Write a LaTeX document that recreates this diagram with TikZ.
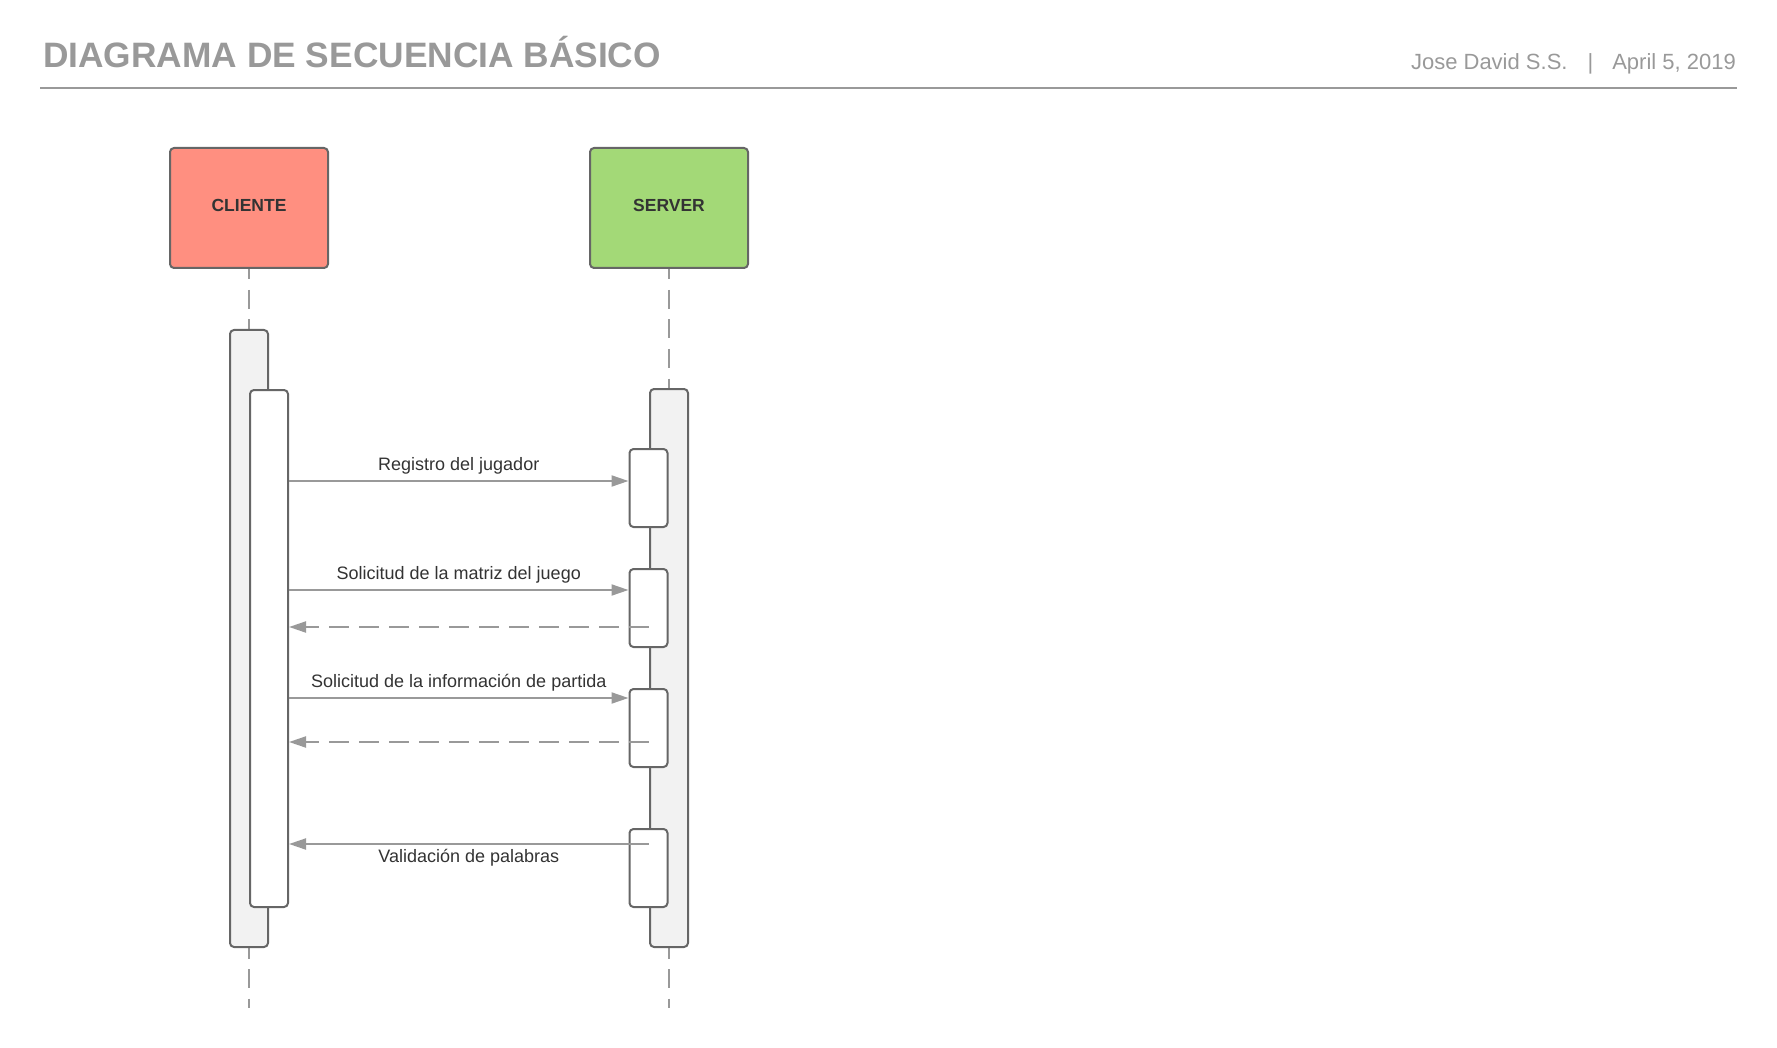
\documentclass[tikz,border=0pt]{standalone}
\usepackage{fontspec}
\setmainfont{Liberation Sans}
\usetikzlibrary{arrows.meta}
\definecolor{titlegray}{RGB}{153, 153, 153}
\definecolor{linegray}{RGB}{153, 153, 153}
\definecolor{bordergray}{RGB}{102, 102, 102}
\definecolor{textdark}{RGB}{51, 51, 51}
\definecolor{clientred}{RGB}{255, 143, 128}
\definecolor{servergreen}{RGB}{163, 217, 119}
\definecolor{barfill}{RGB}{242, 242, 242}

\begin{document}
\begin{tikzpicture}[
    x=1pt, y=-1pt,
    actor/.style={rectangle, draw=bordergray, line width=2pt, rounded corners=4pt, minimum width=158pt, minimum height=120pt, inner sep=0pt, text depth=6pt, text=textdark, font=\bfseries\fontsize{17.5}{20}\selectfont},
    bar/.style={rectangle, draw=bordergray, line width=2pt, rounded corners=4pt, minimum width=38pt, inner sep=0pt},
    lifeline/.style={linegray, line width=2pt, dash pattern=on 19pt off 10.5pt, dash phase=8.5pt},
    msg/.style={-{Triangle[length=17pt, width=11pt]}, linegray, line width=2pt},
    reply/.style={msg, dash pattern=on 20pt off 10pt},
    lbl/.style={text=textdark, font=\fontsize{18}{21}\selectfont, inner sep=0pt, anchor=base}
  ]
    \useasboundingbox (0,0) rectangle (1777,1048);

    % header
    \node[anchor=base west, inner sep=0pt, text=titlegray, font=\bfseries\fontsize{35.3}{40}\selectfont] at (43, 68) (titulo) {DIAGRAMA DE SECUENCIA BÁSICO};
    \node[anchor=base east, inner sep=0pt, text=titlegray, font=\fontsize{22}{26}\selectfont] at (1736, 70) (autor) {Jose David S.S.\hspace{20pt}|\hspace{19pt}April 5, 2019};
    \draw[linegray, line width=2pt] (40, 88) -- (1737, 88);

    % participants
    \node[actor, fill=clientred]   at (249, 208) (cliente) {CLIENTE};
    \node[actor, fill=servergreen] at (669, 208) (server)  {SERVER};
    \coordinate (clientefin) at (249, 1008);
    \coordinate (serverfin)  at (669, 1008);

    % lifelines
    \draw[lifeline] (cliente.south) -- (249, 330);
    \draw[lifeline] (249, 948) -- (clientefin);
    \draw[lifeline] (server.south) -- (669, 389);
    \draw[lifeline] (669, 948) -- (serverfin);

    % activation bars
    \node[bar, fill=barfill, minimum height=617pt] at (249, 638.5) (clienteact) {};
    \node[bar, fill=white,   minimum height=517pt] at (269, 648.5) (clientefoco) {};
    \node[bar, fill=barfill, minimum height=558pt] at (669, 668)   (serveract) {};
    \node[bar, fill=white,   minimum height=78pt]  at (648.5, 488) (registro) {};
    \node[bar, fill=white,   minimum height=78pt]  at (648.5, 608) (matriz) {};
    \node[bar, fill=white,   minimum height=78pt]  at (648.5, 728) (partida) {};
    \node[bar, fill=white,   minimum height=78pt]  at (648.5, 868) (validacion) {};

    % message heights
    \coordinate (m1) at (0, 481);
    \coordinate (m2) at (0, 590);
    \coordinate (r2) at (0, 627);
    \coordinate (m3) at (0, 698);
    \coordinate (r3) at (0, 742);
    \coordinate (m4) at (0, 844);

    \draw[msg] (clientefoco.east |- m1) -- (registro.west |- m1)
      node[lbl, midway, yshift=11pt] {Registro del jugador};
    \draw[msg] (clientefoco.east |- m2) -- (matriz.west |- m2)
      node[lbl, midway, yshift=11pt] {Solicitud de la matriz del juego};
    \draw[reply] (matriz.center |- r2) -- (clientefoco.east |- r2);
    \draw[msg] (clientefoco.east |- m3) -- (partida.west |- m3)
      node[lbl, midway, yshift=11pt] {Solicitud de la información de partida};
    \draw[reply] (partida.center |- r3) -- (clientefoco.east |- r3);
    \draw[msg] (validacion.center |- m4) -- (clientefoco.east |- m4)
      node[lbl, midway, yshift=-18pt] {Validación de palabras};
  \end{tikzpicture}
\end{document}
